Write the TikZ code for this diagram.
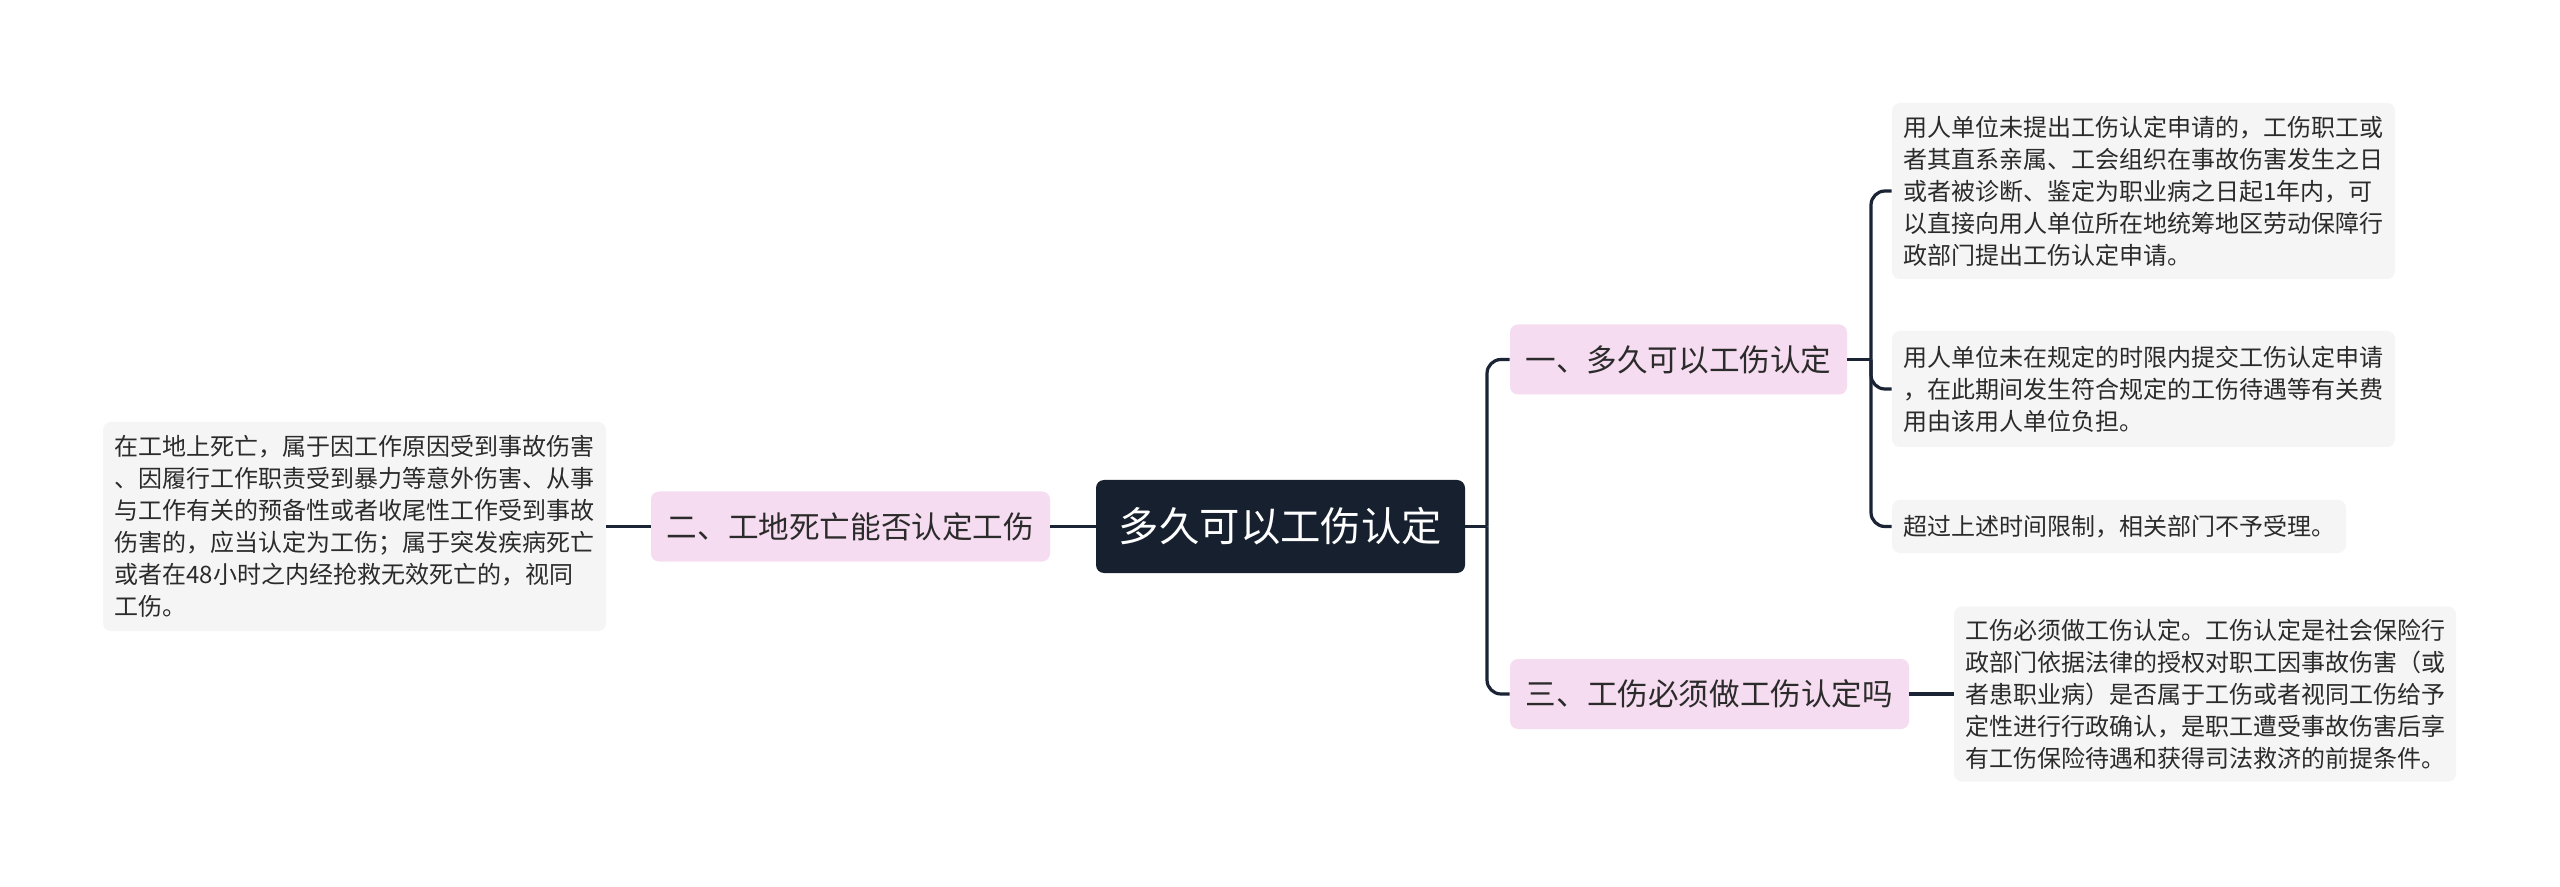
\documentclass[tikz,border=0pt]{standalone}
\usepackage{fontspec}
\newfontfamily\cjk{Noto Sans CJK SC}
\definecolor{rootc}{HTML}{16202E}
\definecolor{pinkc}{HTML}{F6DCF0}
\definecolor{grayc}{HTML}{F5F5F5}
\definecolor{linec}{HTML}{1B2434}
\definecolor{textc}{HTML}{2B2B2B}
\tikzset{
  rootnode/.style={fill=rootc, rounded corners=4pt, text=white, font=\cjk\fontsize{20.2}{24}\selectfont, minimum width=184.5pt, minimum height=46.5pt, inner sep=0pt},
  branchnode/.style={fill=pinkc, rounded corners=4pt, text=textc, font=\cjk\fontsize{15.3}{18}\selectfont, minimum height=35pt, inner sep=0pt},
  leafnode/.style={fill=grayc, rounded corners=4pt, text=textc, font=\cjk\fontsize{12}{16}\selectfont, align=left, inner sep=0pt, text width=240pt},
  conn/.style={draw=linec, line width=1.6pt, rounded corners=7pt}
}
\begin{document}
\begin{tikzpicture}[x=0.5pt,y=-0.5pt]
\useasboundingbox[fill=white] (0,0) rectangle (2560,887);
% root
\node[rootnode] (root) at (1280.5,526.5) {多久可以工伤认定};
% branches
\node[branchnode, minimum width=199.5pt] (b2) at (850.5,526.5) {二、工地死亡能否认定工伤};
\node[branchnode, minimum width=168.5pt] (b1) at (1678.5,359.5) {一、多久可以工伤认定};
\node[branchnode, minimum width=199.5pt] (b3) at (1709.5,694) {三、工伤必须做工伤认定吗};
% leaves
\node[leafnode, minimum width=251.5pt, minimum height=104.5pt] (l1) at (354.5,526.5) {在工地上死亡，属于因工作原因受到事故伤害\\、因履行工作职责受到暴力等意外伤害、从事\\与工作有关的预备性或者收尾性工作受到事故\\伤害的，应当认定为工伤；属于突发疾病死亡\\或者在48小时之内经抢救无效死亡的，视同\\工伤。};
\node[leafnode, minimum width=251.5pt, minimum height=88pt] (t1) at (2143.5,191) {用人单位未提出工伤认定申请的，工伤职工或\\者其直系亲属、工会组织在事故伤害发生之日\\或者被诊断、鉴定为职业病之日起1年内，可\\以直接向用人单位所在地统筹地区劳动保障行\\政部门提出工伤认定申请。};
\node[leafnode, minimum width=251.5pt, minimum height=58pt] (t2) at (2143.5,389) {用人单位未在规定的时限内提交工伤认定申请\\，在此期间发生符合规定的工伤待遇等有关费\\用由该用人单位负担。};
\node[leafnode, text width=216pt, minimum width=227pt, minimum height=26.5pt] (t3) at (2119,526.5) {超过上述时间限制，相关部门不予受理。};
\node[leafnode, minimum width=251pt, minimum height=87.5pt] (t4) at (2205,694) {工伤必须做工伤认定。工伤认定是社会保险行\\政部门依据法律的授权对职工因事故伤害（或\\者患职业病）是否属于工伤或者视同工伤给予\\定性进行行政确认，是职工遭受事故伤害后享\\有工伤保险待遇和获得司法救济的前提条件。};
% junctions
\coordinate (j1) at (1487,526.5);
\coordinate (j2) at (1871,359.5);
% connectors
\draw[conn] (root.west) -- (b2.east);
\draw[conn] (b2.west) -- (l1.east);
\draw[conn] (root.east) -- (j1);
\draw[conn] (j1) |- (b1.west);
\draw[conn] (j1) |- (b3.west);
\draw[conn] (b1.east) -- (j2);
\draw[conn] (j2) |- (t1.west);
\draw[conn] (j2) |- (t2.west);
\draw[conn] (j2) |- (t3.west);
\draw[conn] (b3.east) -- (t4.west);
\end{tikzpicture}
\end{document}
